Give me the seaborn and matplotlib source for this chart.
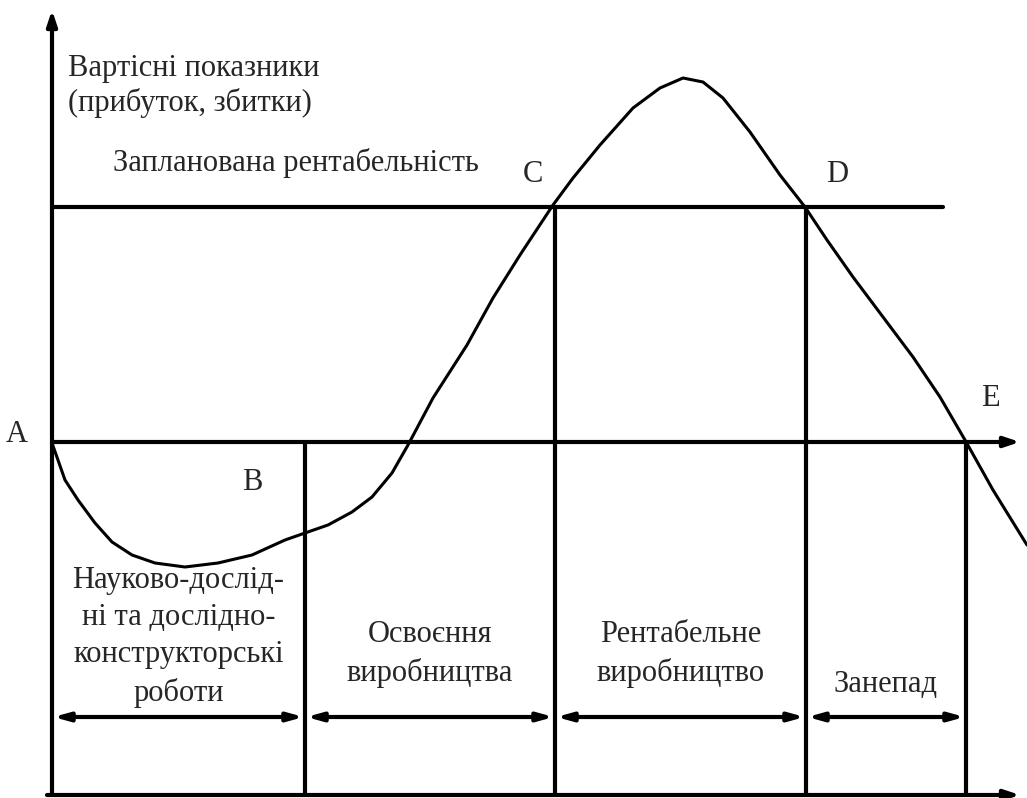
import pandas as pd
import matplotlib.pyplot as plt
import seaborn as sns

# Life cycle curve (relative units: x = time, y = profit / loss)
curve_x = [0, 13, 26, 43, 60, 80, 103, 133, 166, 200, 233, 253, 276, 300, 320,
           340, 356, 381, 415, 441, 468, 501, 521, 548, 581, 608, 631, 651, 671,
           698, 728, 753, 775, 801, 831, 861, 888, 913, 941, 975]
curve_y = [-1, -38, -58, -81, -100, -113, -121, -125, -121, -113, -98, -91, -83,
           -70, -55, -31, -3, 44, 97, 144, 187, 237, 264, 297, 334, 354, 364, 360,
           344, 310, 267, 235, 202, 165, 125, 85, 45, 2, -48, -103]

# stage boundaries B, C, D, E and the planned profitability level
bounds = [253, 503, 754, 914]
planned = 235
bottom = -353
arrow_y = -275

stages = ["Науково-дослід-\nні та дослідно-\nконструкторські\nроботи",
          "Освоєння\nвиробництва", "Рентабельне\nвиробництво", "Занепад"]
stage_y = [-195, -212, -212, -243]

sns.set_style("white")
plt.rcParams['font.family'] = ['Liberation Serif', 'DejaVu Serif']

fig = plt.figure(figsize=(10.27, 7.98), dpi=100)
ax = fig.add_axes([0, 0, 1, 1])
ax.set_xlim(-52, 975)
ax.set_ylim(-356, 442)
ax.axis("off")

df = pd.DataFrame({"t": curve_x, "v": curve_y})
sns.lineplot(data=df, x="t", y="v", sort=False, color="black", linewidth=2.2, ax=ax)

head = dict(arrowstyle="-|>,head_length=0.9,head_width=0.3", color="black", lw=3,
            shrinkA=0, shrinkB=0)
# axes
ax.annotate("", xy=(0, 432), xytext=(0, bottom), arrowprops=head)
ax.annotate("", xy=(968, 0), xytext=(0, 0), arrowprops=head)
ax.annotate("", xy=(968, bottom), xytext=(-5, bottom), arrowprops=head)

# planned profitability
ax.plot([0, 891], [planned, planned], color="black", lw=3)

# vertical stage boundaries
tops = [0, planned, planned, 0]
for b, t in zip(bounds, tops):
    ax.plot([b, b], [t, bottom], color="black", lw=3)

# double arrows under stages
edges = [0] + bounds
dbl = dict(arrowstyle="<|-|>,head_length=0.9,head_width=0.25", color="black", lw=3,
           shrinkA=1, shrinkB=1)
fs = 22
for i, name in enumerate(stages):
    ax.annotate("", xy=(edges[i + 1], arrow_y), xytext=(edges[i], arrow_y), arrowprops=dbl)
    ax.text((edges[i] + edges[i + 1]) / 2, stage_y[i], name, ha="center", va="center",
            fontsize=fs, linespacing=1.36)

ax.text(16, 356, "Вартісні показники\n(прибуток, збитки)", ha="left", va="center",
        fontsize=fs, linespacing=1.22)
ax.text(61, 279, "Запланована рентабельність", ha="left", va="center", fontsize=fs)
ax.text(-35, 7, "A", ha="center", va="center", fontsize=fs)
ax.text(200, -41, "B", ha="center", va="center", fontsize=fs)
ax.text(481, 267, "C", ha="center", va="center", fontsize=fs)
ax.text(785, 267, "D", ha="center", va="center", fontsize=fs)
ax.text(938, 44, "E", ha="center", va="center", fontsize=fs)

fig.savefig("out.png", dpi=100)
